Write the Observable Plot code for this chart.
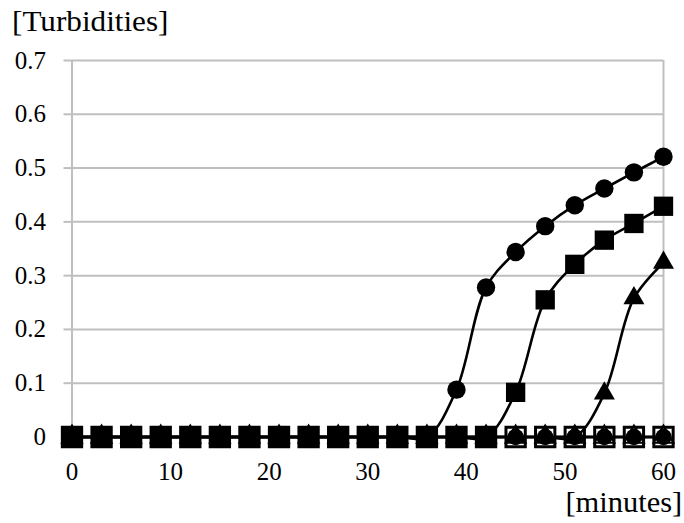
<!DOCTYPE html>
<html>
<head>
<meta charset="utf-8">
<script src="https://cdn.jsdelivr.net/npm/d3@7"></script>
<script src="https://cdn.jsdelivr.net/npm/@observablehq/plot@0.6"></script>
<style>
  html, body { margin: 0; padding: 0; background: #fff; }
</style>
</head>
<body>
<div id="wrap" style="position:relative; width:684px; height:523px;">
  <div id="chart"></div>
  <div id="ytitle" style="position:absolute; left:12px; top:7px; font-family:'Liberation Serif', serif; font-size:29px; line-height:1; white-space:nowrap; color:#000; transform:scaleX(1.075); transform-origin:left top;">[Turbidities]</div>
  <div id="xtitle" style="position:absolute; right:2px; top:488px; font-family:'Liberation Serif', serif; font-size:29px; line-height:1; white-space:nowrap; color:#000; transform:scaleX(1.05); transform-origin:right top;">[minutes]</div>
</div>
<script>
// ---- data ----
const minutes = [0, 3, 6, 9, 12, 15, 18, 21, 24, 27, 30, 33, 36, 39, 42, 45, 48, 51, 54, 57, 60];
const sampleCircle   = [0,0,0,0,0,0,0,0,0,0,0,0,0, 0.088, 0.278, 0.344, 0.392, 0.431, 0.462, 0.492, 0.521];
const sampleSquare   = [0,0,0,0,0,0,0,0,0,0,0,0,0,0,0, 0.083, 0.255, 0.321, 0.366, 0.397, 0.429];
const sampleTriangle = [0,0,0,0,0,0,0,0,0,0,0,0,0,0,0,0,0,0, 0.081, 0.258, 0.324];
const negSquare      = [0,0,0,0,0,0,0,0,0,0,0,0,0,0,0,0,0,0,0,0,0];
const negCircle      = [0,0,0,0,0,0,0,0,0,0,0,0,0,0,0,0,0,0,0,0,0];
const negTriangle    = [0,0,0,0,0,0,0,0,0,0,0,0,0,0,0,0,0,0,0,0,0];
const yTicks = [0, 0.1, 0.2, 0.3, 0.4, 0.5, 0.6, 0.7];
const yTickLabels = ["0", "0.1", "0.2", "0.3", "0.4", "0.5", "0.6", "0.7"];
const xTicks = [0, 10, 20, 30, 40, 50, 60];
const xTickLabels = ["0", "10", "20", "30", "40", "50", "60"];
const xBorders = [0, 60];

const toRows = (vals) => minutes.map((m, i) => ({m, v: vals[i]}));
const series = [
  {rows: toRows(negSquare), symbol: "square", fill: "white", r: 10.9, sw: 3},
  {rows: toRows(negCircle), symbol: "circle", fill: "black", r: 8.3, sw: 0},
  {rows: toRows(negTriangle), symbol: "triangle", fill: "none", r: 7.4, sw: 2},
  {rows: toRows(sampleCircle), symbol: "circle", fill: "black", r: 9.2, sw: 0},
  {rows: toRows(sampleSquare), symbol: "square", fill: "black", r: 10.9, sw: 0},
  {rows: toRows(sampleTriangle), symbol: "triangle", fill: "black", r: 7.8, sw: 0}
];

const grey = "#bfbfbf";
const marks = [
  Plot.gridY(yTicks, {stroke: grey, strokeOpacity: 1, strokeWidth: 2}),
  Plot.axisY(yTicks, {tickSize: 8, tickPadding: 18, stroke: grey, strokeWidth: 2, fill: "black",
    tickFormat: (d) => yTickLabels[yTicks.indexOf(d)], label: null}),
  Plot.ruleX(xBorders, {stroke: grey, strokeWidth: 2}),
  Plot.axisX(xTicks, {tickSize: 0, tickPadding: 25, fill: "black",
    tickFormat: (d) => xTickLabels[xTicks.indexOf(d)], label: null})
];
for (const s of series) {
  marks.push(Plot.line(s.rows, {x: "m", y: "v", stroke: "black", strokeWidth: 2.6, curve: "catmull-rom"}));
  marks.push(Plot.dot(s.rows, {x: "m", y: "v", symbol: () => s.symbol, r: s.r, fill: s.fill, stroke: "black", strokeWidth: s.sw}));
}

const chart = Plot.plot({
  width: 684, height: 523,
  marginTop: 60, marginBottom: 86.5, marginLeft: 71.5, marginRight: 21,
  style: {fontSize: "25px", background: "white", color: "black", overflow: "visible"},
  x: {domain: [0, 60]},
  y: {domain: [0, 0.7]},
  symbol: {type: "identity"},
  marks
});
document.getElementById("chart").appendChild(chart);
// serif tick labels like the original
d3.select(chart).selectAll("text").attr("style", "font-family:'Liberation Serif', serif; font-size:25px;");
</script>
</body>
</html>
